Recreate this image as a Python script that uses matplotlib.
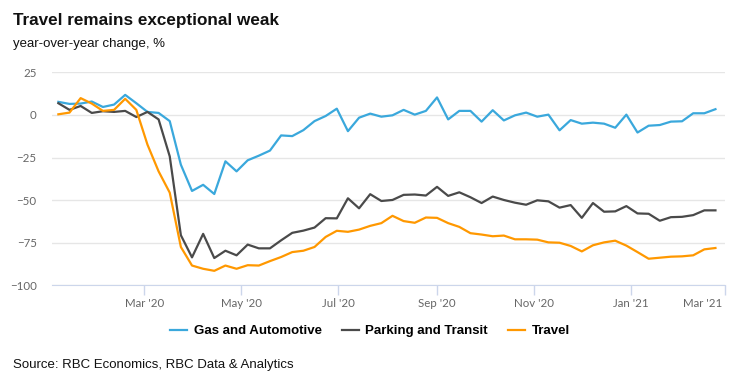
import matplotlib
matplotlib.use("Agg")
import matplotlib.pyplot as plt
import matplotlib.dates as mdates
import matplotlib.transforms as mtransforms
import numpy as np
import pandas as pd

# weekly observations, year-over-year % change
weeks = pd.date_range("2020-01-07", periods=60, freq="7D")

gas = [7.7, 6.5, 6.7, 7.9, 4.7, 6.1, 11.8, 6.9, 1.8, 1.2,
       -3.6, -29.2, -44.6, -41.0, -46.4, -27.2, -33.1, -26.6, -23.9, -20.9,
       -12.0, -12.4, -8.9, -3.6, -0.6, 3.7, -9.5, -1.6, 0.8, -1.0,
       -0.2, 3.0, 0.2, 2.4, 10.3, -2.6, 2.4, 2.4, -3.9, 2.8,
       -3.2, -0.2, 1.4, -1.0, 0.2, -9.0, -3.0, -5.1, -4.5, -5.1,
       -7.5, 0.2, -10.3, -6.3, -5.9, -3.9, -3.7, 1.0, 1.0, 3.4]

parking = [6.9, 3.0, 5.3, 1.2, 2.2, 1.8, 2.4, -1.2, 1.8, -2.6,
           -24.3, -70.6, -83.6, -69.8, -84.0, -79.7, -82.4, -76.1, -78.3, -78.3,
           -73.6, -69.2, -67.9, -66.1, -60.6, -60.7, -48.9, -54.8, -46.5, -50.5,
           -49.9, -46.9, -46.7, -47.3, -42.2, -47.5, -45.4, -48.3, -51.7, -47.9,
           -49.9, -51.5, -52.7, -50.1, -50.7, -54.4, -52.9, -60.4, -51.7, -56.8,
           -56.6, -53.5, -57.8, -58.0, -62.1, -60.0, -59.8, -58.8, -56.0, -56.0]

travel = [0.4, 1.4, 9.9, 6.7, 2.4, 3.0, 9.5, 3.0, -17.4, -33.1,
          -45.6, -77.5, -88.4, -90.3, -91.5, -88.4, -90.3, -88.2, -88.4, -85.8,
          -83.4, -80.5, -79.7, -77.5, -71.6, -68.0, -68.6, -67.3, -65.1, -63.5,
          -59.2, -62.3, -63.3, -60.2, -60.4, -63.5, -65.7, -69.4, -70.2, -71.2,
          -70.8, -73.0, -73.0, -73.2, -74.8, -75.0, -76.9, -80.1, -76.5, -74.8,
          -73.8, -76.7, -80.5, -84.4, -83.8, -83.2, -83.0, -82.4, -78.9, -78.1]

series_names = ["Gas and Automotive", "Parking and Transit", "Travel"]
colors = ["#3aa8dc", "#4a4a4a", "#ff9800"]
y_ticks = [25, 0, -25, -50, -75, -100]
x_ticks = pd.to_datetime(["2020-03-01", "2020-05-01", "2020-07-01", "2020-09-01",
                          "2020-11-01", "2021-01-01", "2021-03-01"])

fig = plt.figure(figsize=(7.5, 3.85), dpi=100)
ax = fig.add_axes([52 / 750, 99.7 / 385, 673 / 750, 212.9 / 385])

for vals, name, c in zip([gas, parking, travel], series_names, colors):
    ax.plot(weeks, vals, color=c, lw=1.6, label=name, solid_joinstyle="round")

ax.set_ylim(-100, 25)
ax.set_yticks(y_ticks)
ax.set_xlim(pd.Timestamp("2020-01-03"), pd.Timestamp("2021-03-01"))
ax.set_xticks(x_ticks)
ax.xaxis.set_major_formatter(mdates.DateFormatter("%b '%y"))

ax.grid(axis="y", color="#e6e6e6", lw=1)
ax.set_axisbelow(True)
for s in ["top", "right", "left"]:
    ax.spines[s].set_visible(False)
ax.spines["bottom"].set_color("#ccd6eb")
ax.tick_params(axis="y", length=0, pad=11, labelsize=8.3, labelcolor="#666666")
ax.tick_params(axis="x", length=7, width=1, color="#ccd6eb", pad=2,
               labelsize=8.3, labelcolor="#666666")
for lab in ax.get_xticklabels() + ax.get_yticklabels():
    lab.set_fontfamily("Lato")

# last date label is pulled inside the plot like the original
last = ax.get_xticklabels()[-1]
last.set_horizontalalignment("right")
last.set_transform(last.get_transform() + mtransforms.ScaledTranslation(-3 / 100, 0, fig.dpi_scale_trans))

fig.text(13 / 750, 1 - 20 / 385, "Travel remains exceptional weak", fontsize=12.3,
         fontweight="bold", family="Liberation Sans", va="center", color="#111111")
fig.text(13 / 750, 1 - 44 / 385, "year-over-year change, %", fontsize=9.5,
         family="Liberation Sans", va="center", color="#111111")
fig.text(13 / 750, 1 - 365 / 385, "Source: RBC Economics, RBC Data & Analytics", fontsize=9.5,
         family="Liberation Sans", va="center", color="#111111")

fig.legend(loc="center", bbox_to_anchor=(370 / 750, 1 - 331 / 385), ncol=3, frameon=False,
           handlelength=1.3, handletextpad=0.5, columnspacing=1.5,
           prop={"family": "Liberation Sans", "weight": "bold", "size": 9.5})

fig.savefig("out.png", dpi=100)
